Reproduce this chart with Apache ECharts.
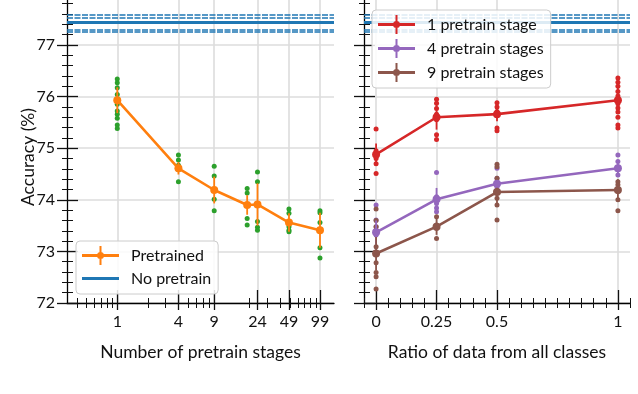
<!DOCTYPE html>
<html><head><meta charset="utf-8">
<script src="https://cdn.jsdelivr.net/npm/echarts@6/dist/echarts.min.js"></script>
<style>html,body{margin:0;padding:0;background:#fff}#c{width:638px;height:394px}</style>
</head><body><div id="c"></div>
<script>
// ---------- data ----------
const stages = [1, 4, 9, 19, 24, 49, 99];
const stageTicks = [1, 4, 9, 24, 49, 99];
const stageMinorTicks = [0.4, 0.5, 0.6, 0.7, 0.8, 0.9, 2, 3, 5, 6, 7, 8, 20, 30, 40, 50, 60, 70, 80, 90];
const pretrainedMean = [75.93, 74.61, 74.19, 73.90, 73.91, 73.56, 73.41];
const pretrainedErr  = [0.25, 0.12, 0.26, 0.19, 0.41, 0.18, 0.34];
const pretrainedRuns = [
  [76.34, 76.27, 76.17, 76.04, 75.91, 75.85, 75.72, 75.66, 75.58, 75.45, 75.38],
  [74.87, 74.77, 74.67, 74.58, 74.35],
  [74.65, 74.46, 74.19, 74.01, 73.79],
  [74.22, 74.13, 73.90, 73.64, 73.51],
  [74.54, 74.35, 73.90, 73.58, 73.47, 73.41],
  [73.82, 73.74, 73.48, 73.41, 73.38],
  [73.79, 73.75, 73.56, 73.41, 73.07, 72.87]
];
const noPretrainMean = 77.45;
const noPretrainDashed = [77.575, 77.525, 77.30, 77.25];

const ratios = [0, 0.25, 0.5, 1];
const ratioTicks = [0, 0.25, 0.5, 1];
const ratioMinorTicks = [-0.05,0,0.05,0.1,0.15,0.2,0.25,0.3,0.35,0.4,0.45,0.5,0.55,0.6,0.65,0.7,0.75,0.8,0.85,0.9,0.95,1,1.05];
const stage1Mean = [74.88, 75.60, 75.66, 75.93];
const stage1Err  = [0.21, 0.24, 0.14, 0.25];
const stage1Runs = [
  [75.37, 74.95, 74.88, 74.80, 74.70, 74.51],
  [75.95, 75.87, 75.77, 75.66, 75.55, 75.26, 75.17],
  [75.88, 75.80, 75.71, 75.64, 75.39, 75.34],
  [76.36, 76.28, 76.20, 76.10, 76.01, 75.92, 75.86, 75.78, 75.70, 75.60, 75.45, 75.39]
];
const stage4Mean = [73.37, 74.01, 74.31, 74.61];
const stage4Err  = [0.23, 0.22, 0.08, 0.13];
const stage4Runs = [
  [73.90, 73.61, 73.48, 73.38, 73.32],
  [74.53, 74.06, 74.00, 73.93, 73.84, 73.77],
  [74.61, 74.42, 74.25, 74.16],
  [74.87, 74.74, 74.64, 74.58, 74.48]
];
const stage9Mean = [72.96, 73.48, 74.15, 74.19];
const stage9Err  = [0.32, 0.16, 0.27, 0.21];
const stage9Runs = [
  [73.82, 73.60, 73.48, 73.41, 73.09, 72.78, 72.59, 72.51, 72.27],
  [73.67, 73.51, 73.45, 73.25],
  [74.69, 74.64, 74.42, 74.13, 74.03, 73.90, 73.61],
  [74.35, 74.29, 74.16, 74.00, 73.79]
];
const yTickLabels = [72, 73, 74, 75, 76, 77];

// ---------- styles ----------
const FONT = 'Lato';
const C = {orange:'#ff7f0e', green:'#2ca02c', blue:'#1f77b4', red:'#d62728', purple:'#9467bd', brown:'#8c564b'};
const GRIDC = '#dcdcdc';
const ICON = 'path://M0,8H37V11H0Z M17.5,0H19.5V19H17.5Z M15,9.5A3.5,3.5 0 1 1 22,9.5A3.5,3.5 0 1 1 15,9.5Z';
const ICON_LINE = 'path://M0,0L0.05,0L0.05,0.05Z M37,19L36.95,19L36.95,18.95Z M0,8H37V11H0Z';

const LMIN = 0.32, LMAX = 136;

function helperX(grid, min, max, o) {
  return Object.assign({
    gridIndex: grid, type: 'value', position: 'bottom', min, max,
    axisLine: {show: false, onZero: false}, axisLabel: {show: false}, splitLine: {show: false},
    axisTick: {show: false}
  }, o);
}
function tickSet(values, inside, length, width) {
  return {show: true, customValues: values, inside, length, lineStyle: {color: '#111', width}};
}
const log10 = v => Math.log10(v);

const xAxes = [
  // 0: left panel data axis (log, hidden)
  {gridIndex: 0, type: 'log', logBase: 10, min: LMIN, max: LMAX, position: 'bottom', show: false,
   axisLine: {onZero: false}},
  // 1: left main visible axis in log space
  helperX(0, log10(LMIN), log10(LMAX), {
    axisLine: {show: true, onZero: false, lineStyle: {color: '#000', width: 1.3}},
    axisTick: tickSet(stageTicks.map(log10), false, 7, 1.3),
    axisLabel: {show: true, customValues: stageTicks.map(log10), formatter: v => String(Math.round(Math.pow(10, v))),
      fontFamily: FONT, fontSize: 16, color: '#111', margin: 11},
    splitLine: {show: true, lineStyle: {color: GRIDC, width: 1.6}},
    name: 'Number of pretrain stages', nameLocation: 'middle', nameGap: 40,
    nameTextStyle: {fontFamily: FONT, fontSize: 17.5, color: '#111'}
  }),
  helperX(0, log10(LMIN), log10(LMAX), {axisTick: tickSet(stageTicks.map(log10), true, 13, 1.3)}),
  helperX(0, log10(LMIN), log10(LMAX), {axisTick: tickSet(stageMinorTicks.map(log10), false, 5, 1)}),
  helperX(0, log10(LMIN), log10(LMAX), {axisTick: tickSet(stageMinorTicks.map(log10), true, 5, 1)}),
  // 5: right panel main axis
  helperX(1, -0.05, 1.05, {
    axisLine: {show: true, onZero: false, lineStyle: {color: '#000', width: 1.3}},
    axisTick: tickSet(ratioTicks, false, 7, 1.3),
    axisLabel: {show: true, customValues: ratioTicks, formatter: v => String(v),
      fontFamily: FONT, fontSize: 16, color: '#111', margin: 11},
    splitLine: {show: true, lineStyle: {color: GRIDC, width: 1.6}},
    name: 'Ratio of data from all classes', nameLocation: 'middle', nameGap: 40,
    nameTextStyle: {fontFamily: FONT, fontSize: 17.5, color: '#111'}
  }),
  helperX(1, -0.05, 1.05, {axisTick: tickSet(ratioTicks, true, 13, 1.3)}),
  helperX(1, -0.05, 1.05, {axisTick: tickSet(ratioMinorTicks, false, 5, 1)}),
  helperX(1, -0.05, 1.05, {axisTick: tickSet(ratioMinorTicks, true, 5, 1)})
];

function yMain(grid, labels) {
  return {
    gridIndex: grid, type: 'value', position: 'left', min: 72, max: 78, interval: 1,
    axisLine: {show: true, onZero: false, lineStyle: {color: '#000', width: 1.3}},
    axisTick: {show: true, inside: false, length: 10, lineStyle: {color: '#111', width: 1.3}},
    minorTick: {show: true, splitNumber: 5, length: 5, lineStyle: {color: '#111', width: 1}},
    axisLabel: {show: labels, fontFamily: FONT, fontSize: 16, color: '#111', margin: 12},
    splitLine: {show: true, lineStyle: {color: GRIDC, width: 1.6}}
  };
}
function yHelper(grid) {
  return {
    gridIndex: grid, type: 'value', position: 'left', min: 72, max: 78, interval: 1,
    axisLine: {show: false, onZero: false}, axisLabel: {show: false}, splitLine: {show: false},
    axisTick: {show: true, inside: true, length: 11, lineStyle: {color: '#111', width: 1.3}},
    minorTick: {show: true, splitNumber: 5, length: 6, lineStyle: {color: '#111', width: 1}}
  };
}
const yAxes = [yMain(0, true), yHelper(0), yMain(1, false), yHelper(1)];

function runsSeries(name, xs, runs, color, xi, yi, size) {
  const data = [];
  xs.forEach((x, i) => runs[i].forEach(v => data.push([x, v])));
  return {type: 'scatter', name, xAxisIndex: xi, yAxisIndex: yi, data, symbol: 'circle',
    symbolSize: size, itemStyle: {color, opacity: 1}, z: 2, silent: true};
}
function errSeries(name, xs, means, errs, color, xi, yi) {
  return {type: 'custom', name, xAxisIndex: xi, yAxisIndex: yi, z: 3, silent: true,
    data: xs.map((x, i) => [x, means[i] - errs[i], means[i] + errs[i]]),
    encode: {x: 0, y: [1, 2]},
    itemStyle: {color},
    renderItem: (params, api) => {
      const lo = api.coord([api.value(0), api.value(1)]);
      const hi = api.coord([api.value(0), api.value(2)]);
      return {type: 'line', shape: {x1: lo[0], y1: lo[1], x2: hi[0], y2: hi[1]},
        style: {stroke: color, lineWidth: 1.8}};
    }};
}
function meanSeries(name, xs, means, color, xi, yi) {
  return {type: 'line', name, xAxisIndex: xi, yAxisIndex: yi, z: 4,
    data: xs.map((x, i) => [x, means[i]]), symbol: 'circle', symbolSize: 8, showSymbol: true,
    itemStyle: {color}, lineStyle: {color, width: 2.6}, silent: true};
}
function noPretrainSeries(name, xi, yi) {
  const ml = [{yAxis: noPretrainMean, lineStyle: {type: 'solid', width: 3.2, color: C.blue}}];
  noPretrainDashed.forEach(v => ml.push({yAxis: v, lineStyle: {type: [6, 1.5], width: 1.5, color: C.blue}}));
  return {type: 'line', name, xAxisIndex: xi, yAxisIndex: yi, data: [], z: 5,
    itemStyle: {color: C.blue}, lineStyle: {color: C.blue, width: 3},
    markLine: {silent: true, symbol: ['none', 'none'], label: {show: false}, animation: false, data: ml}};
}

const series = [
  meanSeries('Pretrained', stages, pretrainedMean, C.orange, 0, 0),
  runsSeries('runs', stages, pretrainedRuns, C.green, 0, 0, 5),
  errSeries('Pretrained', stages, pretrainedMean, pretrainedErr, C.orange, 0, 0),
  noPretrainSeries('No pretrain', 0, 0),
  noPretrainSeries('No pretrain (right)', 5, 2),
  meanSeries('1 pretrain stage', ratios, stage1Mean, C.red, 5, 2),
  meanSeries('4 pretrain stages', ratios, stage4Mean, C.purple, 5, 2),
  meanSeries('9 pretrain stages', ratios, stage9Mean, C.brown, 5, 2),
  runsSeries('runs1', ratios, stage1Runs, C.red, 5, 2, 5),
  runsSeries('runs4', ratios, stage4Runs, C.purple, 5, 2, 5),
  runsSeries('runs9', ratios, stage9Runs, C.brown, 5, 2, 5),
  errSeries('1 pretrain stage', ratios, stage1Mean, stage1Err, C.red, 5, 2),
  errSeries('4 pretrain stages', ratios, stage4Mean, stage4Err, C.purple, 5, 2),
  errSeries('9 pretrain stages', ratios, stage9Mean, stage9Err, C.brown, 5, 2)
];

const legendCommon = {
  orient: 'vertical', itemWidth: 37, itemHeight: 19, selectedMode: false,
  backgroundColor: 'rgba(255,255,255,0.85)', borderColor: '#cccccc', borderWidth: 1, borderRadius: 4,
  textStyle: {fontFamily: FONT, fontSize: 16, color: '#111', padding: [0, 0, 0, 7], lineHeight: 19},
  z: 10
};

const option = {
  animation: false,
  backgroundColor: '#fff',
  grid: [
    {left: 67, top: -6.6, width: 267, height: 309.6, outerBoundsMode: 'none', containLabel: false},
    {left: 364, top: -6.6, width: 266, height: 309.6, outerBoundsMode: 'none', containLabel: false}
  ],
  xAxis: xAxes,
  yAxis: yAxes,
  legend: [
    Object.assign({}, legendCommon, {left: 76, top: 241, itemGap: 4, padding: [5, 7, 6, 6],
      data: [{name: 'Pretrained', icon: ICON}, {name: 'No pretrain', icon: ICON_LINE}]}),
    Object.assign({}, legendCommon, {left: 372, top: 10, itemGap: 5, padding: [5, 7, 6, 6],
      data: [{name: '1 pretrain stage', icon: ICON}, {name: '4 pretrain stages', icon: ICON},
             {name: '9 pretrain stages', icon: ICON}]})
  ],
  graphic: [{
    type: 'text', x: 28, y: 157, rotation: Math.PI / 2,
    style: {text: 'Accuracy (%)', fontFamily: FONT, fontSize: 17.5, fill: '#111',
      textAlign: 'center', textVerticalAlign: 'middle'}
  }],
  series
};
const chart = echarts.init(document.getElementById('c'), null, {renderer: 'canvas'});
chart.setOption(option);
</script></body></html>
